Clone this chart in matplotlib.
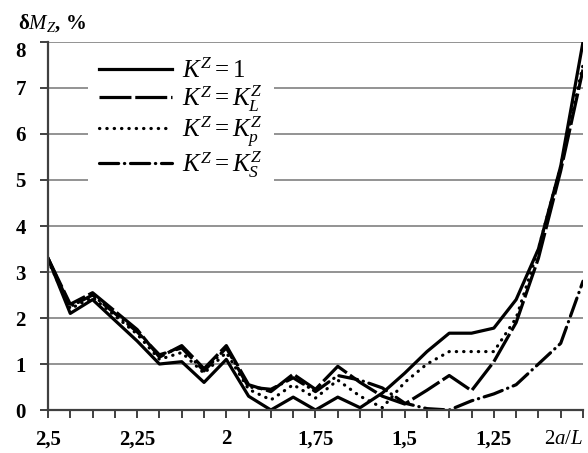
import matplotlib
matplotlib.use("Agg")
import matplotlib.pyplot as plt
from matplotlib.ticker import FixedLocator

plt.rcParams['font.family'] = ['Liberation Serif', 'DejaVu Serif']
plt.rcParams['mathtext.fontset'] = 'custom'
plt.rcParams['mathtext.rm'] = 'Liberation Serif'
plt.rcParams['mathtext.it'] = 'Liberation Serif:italic'
plt.rcParams['mathtext.bf'] = 'Liberation Serif:bold'

# 2a/L grid, step 0.0625
ratio = [2.5, 2.4375, 2.375, 2.3125, 2.25, 2.1875, 2.125, 2.0625, 2.0,
         1.9375, 1.875, 1.8125, 1.75, 1.6875, 1.625, 1.5625, 1.5,
         1.4375, 1.375, 1.3125, 1.25, 1.1875, 1.125, 1.0625, 1.0]

# delta M_Z, %
k_one = [3.3, 2.1, 2.4, 1.95, 1.5, 1.0, 1.05, 0.6, 1.1, 0.3, 0.0, 0.28, 0.0,
         0.28, 0.05, 0.37, 0.8, 1.27, 1.67, 1.67, 1.78, 2.4, 3.5, 5.3, 8.0]
k_l = [3.3, 2.3, 2.55, 2.15, 1.75, 1.15, 1.4, 0.9, 1.4, 0.55, 0.4, 0.78, 0.45,
       0.95, 0.6, 0.3, 0.13, 0.43, 0.75, 0.42, 1.05, 1.9, 3.3, 5.2, 7.4]
k_p = [3.25, 2.2, 2.45, 2.05, 1.65, 1.1, 1.25, 0.8, 1.25, 0.45, 0.22, 0.55,
       0.26, 0.65, 0.3, 0.05, 0.6, 1.0, 1.27, 1.27, 1.27, 2.0, 3.5, 5.3, 7.5]
k_s = [3.3, 2.25, 2.5, 2.1, 1.7, 1.2, 1.35, 0.85, 1.35, 0.5, 0.45, 0.7, 0.4,
       0.75, 0.65, 0.48, 0.15, 0.03, 0.0, 0.2, 0.35, 0.55, 1.0, 1.45, 2.8]

major_ticks = [2.5, 2.25, 2.0, 1.75, 1.5, 1.25, 1.0]
major_labels = ['2,5', '2,25', '2', '1,75', '1,5', '1,25', '$2a/L$']

fig = plt.figure(figsize=(5.88, 4.53), dpi=100)
ax = fig.add_axes([0.0816, 0.0949, 0.9099, 0.8124])

lw = 2.3
ax.plot(ratio, k_one, color='black', lw=lw, label='$K^Z = 1$')
ax.plot(ratio, k_l, color='black', lw=lw, dashes=(10, 1.2),
        label='$K^Z = K_L^Z$')
ax.plot(ratio, k_p, color='black', lw=lw, dashes=(0.1, 2.2),
        dash_capstyle='round', label='$K^Z = K_p^Z$')
ax.plot(ratio, k_s, color='black', lw=lw, dashes=(6, 1.8, 0.1, 1.8),
        dash_capstyle='round', label='$K^Z = K_S^Z$')

ax.set_xlim(2.5, 1.0)
ax.set_ylim(0, 8)

ax.xaxis.set_major_locator(FixedLocator(major_ticks))
ax.xaxis.set_minor_locator(FixedLocator(ratio))
ax.set_xticklabels(major_labels)
ax.set_yticks(range(0, 9))

for side in ('top', 'right'):
    ax.spines[side].set_visible(False)
for side in ('left', 'bottom'):
    ax.spines[side].set_color('#404040')
    ax.spines[side].set_linewidth(1.6)

ax.yaxis.grid(True, color='#808080', lw=1.2)
ax.set_axisbelow(True)

ax.tick_params(axis='both', which='both', direction='out', length=6,
               width=1.4, color='#404040', labelsize=15)
ax.tick_params(axis='y', pad=10)
ax.tick_params(axis='x', pad=8)
for lab in ax.get_xticklabels() + ax.get_yticklabels():
    lab.set_fontweight('bold')
ax.get_xticklabels()[-1].set_horizontalalignment('right')
# top label sits a little below its gridline
ax.get_yticklabels()[-1].set_verticalalignment('top')

leg = ax.legend(loc='upper left', bbox_to_anchor=(0.075, 0.985),
                borderaxespad=0, fontsize=18, handlelength=2.9,
                handletextpad=0.4, labelspacing=0.0, borderpad=0.45,
                frameon=True, fancybox=False, framealpha=1)
leg.get_frame().set_edgecolor('none')
leg.get_frame().set_facecolor('white')

fig.text(0.03, 0.972, 'δ$M_Z$, %', fontsize=15, fontweight='bold', va='top')

fig.savefig('out.png', dpi=100)
